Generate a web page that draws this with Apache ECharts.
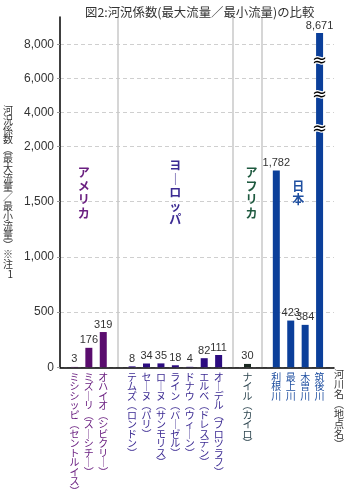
<!DOCTYPE html>
<html><head><meta charset="utf-8">
<script src="https://cdn.jsdelivr.net/npm/echarts@6/dist/echarts.min.js"></script>
<style>html,body{margin:0;padding:0;background:#fff}#c{width:347px;height:496px}</style>
</head><body><div id="c"></div>
<script>
// ---- data ----
const titleText = '図2:河況係数(最大流量／最小流量)の比較';
const yAxisName = '河況係数(最大流量／最小流量)※注1';
const xAxisName = '河川名(地点名)';
const groupNames = ['アメリカ', 'ヨーロッパ', 'アフリカ', '日本'];
const americaRivers = ['ミシシッピ(セントルイス)', 'ミズーリ(スーシチー)', 'オハイオ(シビクリー)'];
const americaValues = [3, 176, 319];
const europeRivers = ['テムズ(ロンドン)', 'セーヌ(パリ)', 'ローヌ(サンモリス)', 'ライン(バーゼル)', 'ドナウ(ウィーン)', 'エルベ(ドレスデン)', 'オーデル(ブロツラフ)'];
const europeValues = [8, 34, 35, 18, 4, 82, 111];
const africaRivers = ['ナイル(カイロ)'];
const africaValues = [30];
const japanRivers = ['利根川', '最上川', '木曽川', '筑後川'];
const japanValues = [1782, 423, 384, 8671];
const yTickValues = [0, 500, 1000, 1500, 2000, 4000, 6000, 8000];
const breakValues = [3000, 5000, 7000];
const groupLabelValue = 1580;

// ---- styles ----
const barColors = ['#5a0d6e', '#2c0c80', '#1c2a22', '#0b3f9a'];
const labelColors = ['#6a1f80', '#3b2a92', '#2e4650', '#1f4fa0'];
const groupLabelColors = ['#6a1f80', '#3b2a92', '#1f5a40', '#1f4fa0'];
const groupLabelOffsets = [[-5, 0], [0, 0], [4, 0], [0, 0]];
const numFont = "'Liberation Sans', Arial, 'Noto Sans CJK JP', sans-serif";
const jpFont = "'Noto Sans CJK JP', sans-serif";

// ---- broken axis transform (linear to 2000, compressed above) ----
const BREAK = 2000, K = 0.154;
const f = v => v <= BREAK ? v : BREAK + (v - BREAK) * K;
const finv = d => d <= BREAK ? d : BREAK + (d - BREAK) / K;
const fmt = v => String(Math.round(v)).replace(/\B(?=(\d{3})+(?!\d))/g, ',');
const vert = s => s.replace(/\(/g, '︵').replace(/\)/g, '︶').replace(/ー/g, '｜').split('').join('\n');

const groups = [
  { rivers: americaRivers, values: americaValues },
  { rivers: europeRivers, values: europeValues },
  { rivers: africaRivers, values: africaValues },
  { rivers: japanRivers, values: japanValues }
];

const categories = ['__gapStart'];
const catGroup = [-1];
const seriesData = [null];
const separators = {};
groups.forEach((g, gi) => {
  if (gi > 0) { const k = '__sep' + gi; categories.push(k); catGroup.push(-1); seriesData.push(null); separators[k] = true; }
  g.rivers.forEach((r, i) => {
    categories.push(r); catGroup.push(gi);
    seriesData.push({ value: f(g.values[i]), real: g.values[i], itemStyle: { color: barColors[gi] } });
  });
});
categories.push('__gapEnd'); catGroup.push(-1); seriesData.push(null);

const markData = [];
groups.forEach((g, gi) => {
  const a = categories.indexOf(g.rivers[0]);
  const b = categories.indexOf(g.rivers[g.rivers.length - 1]);
  const mid = Math.floor((a + b) / 2);
  const extra = ((a + b) % 2) ? [7.5, 0] : [0, 0];
  markData.push({
    coord: [mid, f(groupLabelValue)], value: groupNames[gi], symbolSize: 0,
    label: { show: true, formatter: vert(groupNames[gi]), color: groupLabelColors[gi], fontWeight: 'bold', fontSize: 12, lineHeight: 13.5, fontFamily: jpFont,
      offset: [groupLabelOffsets[gi][0] + extra[0], groupLabelOffsets[gi][1]] }
  });
});
const lastJapan = japanRivers[japanRivers.length - 1];
breakValues.forEach(v => {
  markData.push({
    coord: [lastJapan, f(v)], value: v, symbolSize: 0,
    label: { show: true, formatter: '≈', color: '#000', fontSize: 18, fontWeight: 'normal', textBorderColor: '#fff', textBorderWidth: 2.5, fontFamily: 'DejaVu Sans, sans-serif' }
  });
});

const chart = echarts.init(document.getElementById('c'), null, { renderer: 'canvas' });
chart.setOption({
  animation: false,
  backgroundColor: '#fff',
  title: { text: titleText, left: 80, top: 1, textStyle: { fontSize: 12.4, fontWeight: 'normal', color: '#333', fontFamily: jpFont } },
  grid: { left: 55, right: 8, top: 17, bottom: 122, containLabel: false },
  xAxis: {
    type: 'category', data: categories, boundaryGap: false,
    axisLine: { lineStyle: { color: '#000', width: 1.5 } },
    axisTick: { show: false },
    axisLabel: {
      interval: 0, margin: 5, fontSize: 10, lineHeight: 9.5, fontFamily: jpFont,
      formatter: v => v.startsWith('__') ? '' : vert(v),
      color: (v, i) => { const gi = catGroup[categories.indexOf(v)]; return gi >= 0 ? labelColors[gi] : '#333'; },
      verticalAlign: 'top'
    },
    splitLine: { show: true, interval: (i, v) => !!separators[v], lineStyle: { color: '#c8c8c8', width: 1.5, type: 'solid' } },
    name: vert(xAxisName), nameLocation: 'end', nameGap: 2,
    nameTextStyle: { fontSize: 10, lineHeight: 10, color: '#333', fontFamily: jpFont, align: 'left', verticalAlign: 'top', padding: [2, 0, 0, -2] }
  },
  yAxis: {
    type: 'value', min: 0, max: 3173,
    axisLine: { show: true, lineStyle: { color: '#000', width: 1.5 } },
    axisTick: { show: true, length: 3, lineStyle: { color: '#999' }, customValues: yTickValues.map(f) },
    axisLabel: { customValues: yTickValues.map(f), formatter: v => fmt(finv(v)), fontSize: 12, color: '#333', margin: 6, fontFamily: numFont },
    splitLine: { show: true, lineStyle: { color: '#cfcfcf', type: [4, 3], width: 1 } },
    name: vert(yAxisName), nameLocation: 'middle', nameGap: 47, nameRotate: 0,
    nameTextStyle: { fontSize: 10, lineHeight: 9.6, color: '#333', fontFamily: jpFont, padding: [18, 0, 0, 0] }
  },
  series: [{
    type: 'bar', data: seriesData, barWidth: 7,
    label: { show: true, position: 'top', distance: 2, formatter: p => fmt(p.data.real), fontSize: 11, color: '#333', fontFamily: numFont },
    markPoint: { symbol: 'circle', symbolSize: 0, data: markData }
  }]
});
</script></body></html>
